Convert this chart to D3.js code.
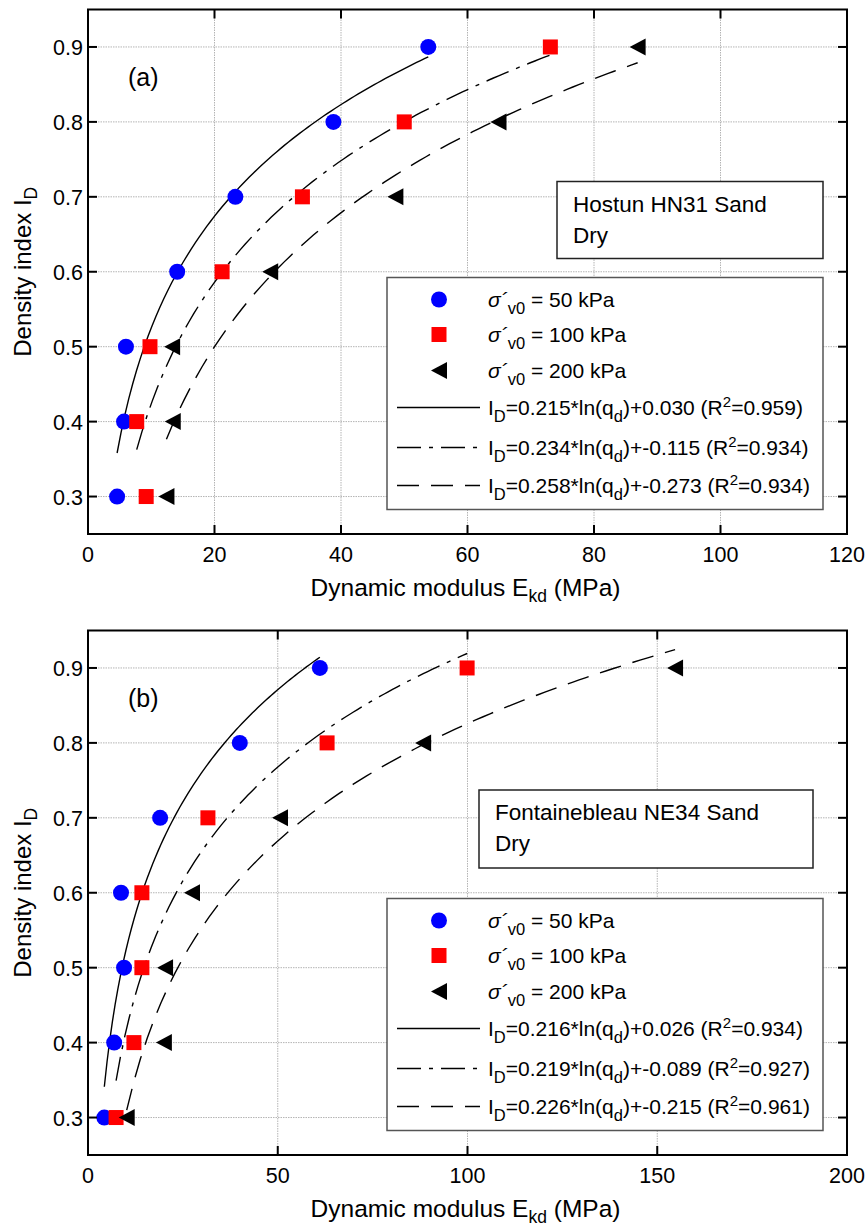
<!DOCTYPE html>
<html>
<head>
<meta charset="utf-8">
<script src="https://cdn.jsdelivr.net/npm/d3@7"></script>
<style>
html,body{margin:0;padding:0;background:#fff;}
svg{display:block;font-family:"Liberation Sans",Arial,sans-serif;}
</style>
</head>
<body>
<svg id="chart" width="868" height="1226"></svg>
<script>
// ---- data ----
const yLevels = [0.3, 0.4, 0.5, 0.6, 0.7, 0.8, 0.9];
const yTicks = [0.3, 0.4, 0.5, 0.6, 0.7, 0.8, 0.9];
const stressLabels = ["50 kPa", "100 kPa", "200 kPa"];

// Panel (a) Hostun HN31 Sand
const aTitle = ["Hostun HN31 Sand", "Dry"];
const aXTicks = [0, 20, 40, 60, 80, 100, 120];
const a50 = [4.6, 5.7, 6.0, 14.1, 23.3, 38.8, 53.8];
const a100 = [9.2, 7.7, 9.8, 21.2, 33.9, 50.0, 73.1];
const a200 = [12.4, 13.4, 13.3, 28.8, 48.6, 64.9, 86.9];
const aFitA = [0.215, 0.234, 0.258];
const aFitB = [0.030, -0.115, -0.273];
const aR2 = [0.959, 0.934, 0.934];

// Panel (b) Fontainebleau NE34 Sand
const bTitle = ["Fontainebleau NE34 Sand", "Dry"];
const bXTicks = [0, 50, 100, 150, 200];
const b50 = [4.3, 6.9, 9.5, 8.7, 19.0, 40.0, 61.1];
const b100 = [7.4, 12.1, 14.2, 14.2, 31.6, 63.0, 99.9];
const b200 = [10.2, 20.0, 20.3, 27.4, 50.6, 88.3, 154.7];
const bFitA = [0.216, 0.219, 0.226];
const bFitB = [0.026, -0.089, -0.215];
const bR2 = [0.934, 0.927, 0.961];

// ---- drawing ----
const svg = d3.select("#chart");
const colors = ["#0000ff", "#ff0000", "#000000"];
const dashes = [null, "24,8,4,8", "22,12"];
const f3 = v => v.toFixed(3);

function marker(g, type, x, y) {
  if (type === 0) {
    g.append("circle").attr("cx", x).attr("cy", y).attr("r", 8).attr("fill", colors[0]);
  } else if (type === 1) {
    g.append("rect").attr("x", x - 7.5).attr("y", y - 7.5).attr("width", 15).attr("height", 15).attr("fill", colors[1]);
  } else {
    g.append("path").attr("d", `M${x - 8},${y}L${x + 8},${y - 8.5}L${x + 8},${y + 8.5}Z`).attr("fill", colors[2]);
  }
}

function drawPanel(opt) {
  const top = opt.top;
  const left = 88, right = 847, bottom = top + 524.5;
  const x = d3.scaleLinear().domain([0, opt.xTicks[opt.xTicks.length - 1]]).range([left, right]);
  const y = d3.scaleLinear().domain([0.25, 0.95]).range([bottom, top]);
  const g = svg.append("g");

  // grid
  g.append("g").selectAll("line.gx").data(opt.xTicks.slice(1, -1)).join("line")
    .attr("x1", d => x(d)).attr("x2", d => x(d)).attr("y1", top).attr("y2", bottom)
    .attr("stroke", "#b4b4b4").attr("stroke-width", 1).attr("stroke-dasharray", "1.5,1");
  g.append("g").selectAll("line.gy").data(yTicks).join("line")
    .attr("x1", left).attr("x2", right).attr("y1", d => y(d)).attr("y2", d => y(d))
    .attr("stroke", "#b4b4b4").attr("stroke-width", 1).attr("stroke-dasharray", "1.5,1");

  // fit curves
  const series = opt.series;
  series.forEach((s, i) => {
    const lo = d3.min(s), hi = d3.max(s);
    const n = 80;
    const pts = d3.range(n + 1).map(k => {
      const q = lo + (hi - lo) * k / n;
      return [q, opt.fitA[i] * Math.log(q) + opt.fitB[i]];
    });
    g.append("path").datum(pts)
      .attr("d", d3.line().x(d => x(d[0])).y(d => y(d[1])))
      .attr("fill", "none").attr("stroke", "#000").attr("stroke-width", 1.4)
      .attr("stroke-dasharray", dashes[i]);
  });

  // points
  series.forEach((s, i) => {
    s.forEach((v, j) => marker(g, i, x(v), y(yLevels[j])));
  });

  // frame
  g.append("rect").attr("x", left).attr("y", top).attr("width", right - left).attr("height", bottom - top)
    .attr("fill", "none").attr("stroke", "#000").attr("stroke-width", 2);

  // ticks (inward on all sides)
  const tl = 9;
  opt.xTicks.forEach(d => {
    g.append("line").attr("x1", x(d)).attr("x2", x(d)).attr("y1", bottom).attr("y2", bottom - tl).attr("stroke", "#000").attr("stroke-width", 2);
    g.append("line").attr("x1", x(d)).attr("x2", x(d)).attr("y1", top).attr("y2", top + tl).attr("stroke", "#000").attr("stroke-width", 2);
  });
  yTicks.forEach(d => {
    g.append("line").attr("x1", left).attr("x2", left + tl).attr("y1", y(d)).attr("y2", y(d)).attr("stroke", "#000").attr("stroke-width", 2);
    g.append("line").attr("x1", right).attr("x2", right - tl).attr("y1", y(d)).attr("y2", y(d)).attr("stroke", "#000").attr("stroke-width", 2);
  });

  // tick labels
  g.append("g").selectAll("text").data(opt.xTicks).join("text")
    .attr("x", d => x(d)).attr("y", bottom + 28).attr("text-anchor", "middle")
    .attr("font-size", 21.5).text(d => d);
  g.append("g").selectAll("text").data(yTicks).join("text")
    .attr("x", 83).attr("y", d => y(d) + 8).attr("text-anchor", "end")
    .attr("font-size", 21.5).text(d => d.toFixed(1));

  // axis titles
  const xt = g.append("text").attr("x", (left + right) / 2 - 2).attr("y", bottom + 62)
    .attr("text-anchor", "middle").attr("font-size", 24.5);
  xt.append("tspan").text("Dynamic modulus E");
  xt.append("tspan").attr("font-size", 17.5).attr("dy", 6).text("kd");
  xt.append("tspan").attr("dy", -6).text(" (MPa)");

  const yt = g.append("text").attr("transform", `translate(31,${(top + bottom) / 2}) rotate(-90)`)
    .attr("text-anchor", "middle").attr("font-size", 24);
  yt.append("tspan").text("Density index I");
  yt.append("tspan").attr("font-size", 17.5).attr("dy", 6).text("D");

  // panel label
  g.append("text").attr("x", 128).attr("y", top + 76).attr("font-size", 25).text(opt.label);

  // title box
  const tb = opt.titleBox;
  g.append("rect").attr("x", tb[0]).attr("y", top + tb[1]).attr("width", tb[2]).attr("height", tb[3])
    .attr("fill", "#fff").attr("stroke", "#222").attr("stroke-width", 1.5);
  opt.title.forEach((t, i) => {
    g.append("text").attr("x", tb[0] + 16).attr("y", top + tb[1] + 30 + i * 31)
      .attr("font-size", 22.5).text(t);
  });

  // legend
  const lx = 387, ly = top + 268, lw = 436, lh = 232;
  const lg = g.append("g");
  lg.append("rect").attr("x", lx).attr("y", ly).attr("width", lw).attr("height", lh)
    .attr("fill", "#fff").attr("stroke", "#555").attr("stroke-width", 1.5);
  const rows = [22, 57, 93, 130, 170, 208];
  stressLabels.forEach((lab, i) => {
    const cy = ly + rows[i];
    marker(lg, i, 439, cy);
    const t = lg.append("text").attr("x", 488).attr("y", cy + 7).attr("font-size", 21);
    t.append("tspan").attr("font-style", "italic").text("σ´");
    t.append("tspan").attr("font-size", 16.5).attr("dy", 7).text("v0");
    t.append("tspan").attr("dy", -7).text(" = " + lab);
  });
  opt.fitA.forEach((a, i) => {
    const cy = ly + rows[3 + i];
    lg.append("line").attr("x1", 397).attr("x2", 480).attr("y1", cy).attr("y2", cy)
      .attr("stroke", "#000").attr("stroke-width", 1.4).attr("stroke-dasharray", dashes[i]);
    const b = opt.fitB[i];
    const t = lg.append("text").attr("x", 488).attr("y", cy + 7).attr("font-size", 21);
    t.append("tspan").text("I");
    t.append("tspan").attr("font-size", 16.5).attr("dy", 7).text("D");
    t.append("tspan").attr("dy", -7).text("=" + f3(a) + "*ln(q");
    t.append("tspan").attr("font-size", 16.5).attr("dy", 7).text("d");
    t.append("tspan").attr("dy", -7).text(")+" + f3(b) + " (R");
    t.append("tspan").attr("font-size", 15).attr("dy", -8).text("2");
    t.append("tspan").attr("dy", 8).text("=" + f3(opt.r2[i]) + ")");
  });
}

drawPanel({
  top: 9.5, label: "(a)", xTicks: aXTicks, series: [a50, a100, a200],
  fitA: aFitA, fitB: aFitB, r2: aR2, title: aTitle, titleBox: [557, 172, 266, 77]
});
drawPanel({
  top: 630.5, label: "(b)", xTicks: bXTicks, series: [b50, b100, b200],
  fitA: bFitA, fitB: bFitB, r2: bR2, title: bTitle, titleBox: [479, 159.5, 334, 78]
});
</script>
</body>
</html>
